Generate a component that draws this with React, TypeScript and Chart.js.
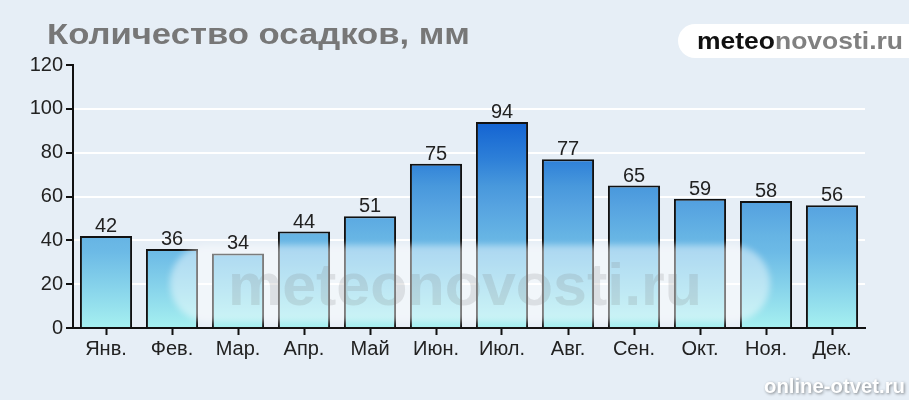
import React, { useEffect, useRef } from "react";
import { Chart, registerables } from "chart.js";

Chart.register(...registerables);

const titleText = "Количество осадков, мм";
const months = ["Янв.", "Фев.", "Мар.", "Апр.", "Май", "Июн.", "Июл.", "Авг.", "Сен.", "Окт.", "Ноя.", "Дек."];
const precipitation = [42, 36, 34, 44, 51, 75, 94, 77, 65, 59, 58, 56];
const yMin = 0;
const yMax = 120;
const yStep = 20;
const logoDark = "meteo";
const logoLight = "novosti.ru";
const watermarkText = "meteonovosti.ru";
const cornerText = "online-otvet.ru";

const W = 909;
const H = 400;

export default function App() {
  const ref = useRef<HTMLCanvasElement | null>(null);

  useEffect(() => {
    if (!ref.current) return;
    const ctx0 = ref.current.getContext("2d");
    if (!ctx0) return;

    let cachedGrad: CanvasGradient | null = null;
    const getGrad = (chart: any) => {
      const area = chart.chartArea;
      if (!area) return "#66b4e4";
      if (cachedGrad) return cachedGrad;
      const g = chart.ctx.createLinearGradient(0, area.bottom, 0, area.top);
      g.addColorStop(0, "#a6f0f0");
      g.addColorStop(0.29, "#6cbae6");
      g.addColorStop(0.35, "#66b4e4");
      g.addColorStop(0.47, "#55a2e0");
      g.addColorStop(0.54, "#4898dc");
      g.addColorStop(0.64, "#2e80d8");
      g.addColorStop(0.78, "#1464d2");
      g.addColorStop(1, "#0050c8");
      cachedGrad = g;
      return g;
    };

    const fitText = (c: CanvasRenderingContext2D, parts: { t: string; color: string }[], x: number, y: number, width: number) => {
      const total = parts.reduce((s, p) => s + c.measureText(p.t).width, 0);
      const k = width / total;
      c.save();
      c.translate(x, y);
      c.scale(k, 1);
      let cx = 0;
      parts.forEach((p) => {
        c.fillStyle = p.color;
        c.fillText(p.t, cx, 0);
        cx += c.measureText(p.t).width;
      });
      c.restore();
    };

    const decor = {
      id: "decor",
      beforeDraw(chart: any) {
        const c = chart.ctx;
        c.save();
        c.fillStyle = "#e6eef6";
        c.fillRect(0, 0, chart.width, chart.height);
        c.textBaseline = "alphabetic";
        c.textAlign = "left";
        // title
        c.font = "bold 30px 'Liberation Sans', Arial, sans-serif";
        fitText(c, [{ t: titleText, color: "#777777" }], 47, 44, 423);
        // logo box
        c.fillStyle = "#ffffff";
        c.beginPath();
        (c as any).roundRect(678, 24, 270, 34, 17);
        c.fill();
        c.font = "bold 24px 'Liberation Sans', Arial, sans-serif";
        fitText(
          c,
          [
            { t: logoDark, color: "#111111" },
            { t: logoLight, color: "#808080" },
          ],
          697,
          49,
          206
        );
        c.restore();
      },
      afterDatasetsDraw(chart: any) {
        const c = chart.ctx;
        // watermark capsule
        c.save();
        c.filter = "blur(3px)";
        c.fillStyle = "rgba(255,255,255,0.45)";
        c.beginPath();
        (c as any).roundRect(170, 245, 600, 77, 38);
        c.fill();
        c.filter = "none";
        c.font = "bold 60px 'Liberation Sans', Arial, sans-serif";
        c.textAlign = "left";
        c.textBaseline = "alphabetic";
        fitText(c, [{ t: watermarkText, color: "rgba(120,120,120,0.18)" }], 228, 305, 474);
        c.restore();

        // value labels
        const meta = chart.getDatasetMeta(0);
        c.save();
        c.font = "20px 'Liberation Sans', Arial, sans-serif";
        c.fillStyle = "#222222";
        c.textAlign = "center";
        c.textBaseline = "alphabetic";
        meta.data.forEach((bar: any, i: number) => {
          c.fillText(String(precipitation[i]), bar.x, bar.y - 4);
        });
        c.restore();
      },
      afterDraw(chart: any) {
        const c = chart.ctx;
        c.save();
        c.font = "bold 20px 'Liberation Sans', Arial, sans-serif";
        c.textAlign = "left";
        c.textBaseline = "alphabetic";
        c.shadowColor = "rgba(0,0,0,0.45)";
        c.shadowBlur = 3;
        c.shadowOffsetX = 1;
        c.shadowOffsetY = 1;
        fitText(c, [{ t: cornerText, color: "#ffffff" }], 764, 393, 141);
        c.restore();
      },
    };

    const chart = new Chart(ctx0, {
      type: "bar",
      data: {
        labels: months,
        datasets: [
          {
            data: precipitation,
            backgroundColor: (ctx: any) => getGrad(ctx.chart),
            borderColor: "#111111",
            borderWidth: 2,
            barPercentage: 0.79,
            categoryPercentage: 1,
          },
        ],
      },
      options: {
        responsive: false,
        animation: false,
        events: [],
        layout: { padding: { top: 65, right: 44, bottom: 0, left: 0 } },
        plugins: {
          legend: { display: false },
          title: { display: false },
          tooltip: { enabled: false },
        },
        scales: {
          x: {
            grid: {
              drawOnChartArea: false,
              offset: false,
              tickColor: "#111111",
              tickLength: 7,
              tickWidth: 2,
            },
            border: { color: "#111111", width: 2 },
            ticks: {
              color: "#222222",
              font: { family: "'Liberation Sans', Arial, sans-serif", size: 20 },
              padding: 2,
              maxRotation: 0,
              autoSkip: false,
            },
            afterFit: (s: any) => {
              s.height = 72;
            },
          },
          y: {
            min: yMin,
            max: yMax,
            grid: {
              color: (ctx: any) =>
                ctx.tick && (ctx.tick.value === yMin || ctx.tick.value === yMax) ? "rgba(0,0,0,0)" : "#ffffff",
              lineWidth: 2,
              tickColor: "#111111",
              tickLength: 7,
              tickWidth: 2,
            },
            border: { color: "#111111", width: 2 },
            ticks: {
              stepSize: yStep,
              color: "#222222",
              font: { family: "'Liberation Sans', Arial, sans-serif", size: 20 },
              padding: 3,
            },
            afterFit: (s: any) => {
              s.width = 73;
            },
          },
        },
      },
      plugins: [decor],
    });

    return () => chart.destroy();
  }, []);

  return (
    <div style={{ position: "absolute", left: 0, top: 0, width: W, height: H }}>
      <canvas ref={ref} width={W} height={H} style={{ display: "block", width: W, height: H }} />
    </div>
  );
}
